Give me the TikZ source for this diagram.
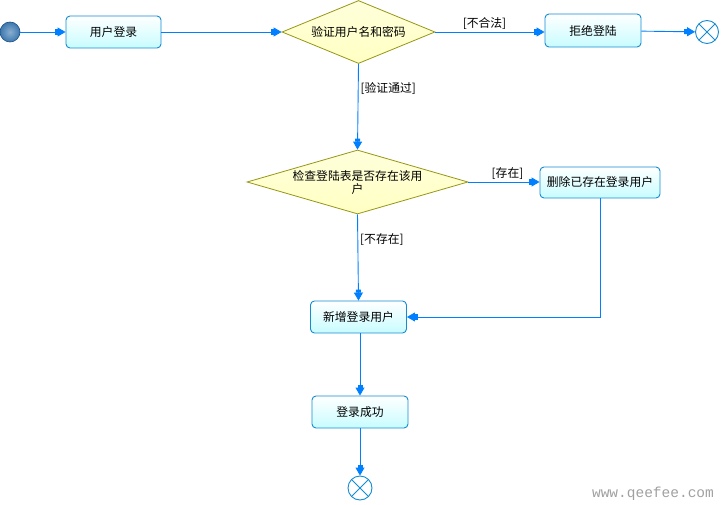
\documentclass[tikz,border=0pt]{standalone}
\usepackage{fontspec}
\newfontfamily\cjk{Noto Sans CJK SC}
\newfontfamily\wmfont{Liberation Mono}
\usetikzlibrary{shapes.geometric,arrows.meta}
\definecolor{flowblue}{RGB}{0,128,255}
\definecolor{boxline}{RGB}{20,140,210}
\definecolor{boxfill}{RGB}{200,252,255}
\definecolor{decfill}{RGB}{255,255,195}
\definecolor{decline}{RGB}{150,150,20}
\definecolor{startfill}{RGB}{60,120,175}
\definecolor{startline}{RGB}{30,80,130}
\definecolor{wmgray}{RGB}{160,160,160}
\tikzset{
  every node/.style={font=\cjk\fontsize{11.8}{13}\selectfont},
  act/.style={draw=boxline, line width=0.9pt, rounded corners=4pt,
    top color=white, bottom color=boxfill, minimum height=32pt, inner sep=2pt},
  dec/.style={diamond, draw=decline, line width=0.8pt, top color=decfill!60, bottom color=decfill,
    inner sep=0pt},
  startdot/.style={circle, draw=startline, line width=0.6pt, inner color=startfill!60, outer color=startfill,
    minimum size=20pt, inner sep=0pt},
  enddot/.style={circle, draw=boxline, line width=0.9pt, fill=white, minimum size=23pt, inner sep=0pt,
    path picture={\draw[boxline, line width=0.8pt]
      (path picture bounding box.north west) -- (path picture bounding box.south east)
      (path picture bounding box.north east) -- (path picture bounding box.south west);}},
  flow/.style={draw=flowblue, line width=0.9pt,
    -{Rectangle[length=3pt,width=5pt]Triangle[length=8pt,width=9pt]}},
  guard/.style={inner sep=2pt}
}
\begin{document}
\begin{tikzpicture}[x=1pt,y=-1pt]
\useasboundingbox (0,0) rectangle (721,505);
% nodes
\node[startdot] (start) at (10,32) {};
\node[act, minimum width=95pt] (login) at (113.5,32) {用户登录};
\node[dec, minimum width=153pt, minimum height=63pt] (d1) at (358.5,32) {};
\node (d1t) at (d1) {验证用户名和密码};
\node[act, minimum width=96pt, minimum height=33pt] (reject) at (593,30.5) {拒绝登陆};
\node[enddot] (end1) at (707,32) {};
\node[dec, minimum width=221pt, minimum height=64pt] (d2) at (357.5,182) {};
\node[align=center, font=\cjk\fontsize{11.8}{13}\selectfont] (d2t) at (357.5,182.5) {检查登陆表是否存在该用\\户};
\node[act, minimum width=120pt, minimum height=31pt] (del) at (600,182.5) {删除已存在登录用户};
\node[act, minimum width=96pt] (add) at (358.5,317) {新增登录用户};
\node[act, minimum width=96pt] (succ) at (360,412) {登录成功};
\node[enddot, minimum size=24pt] (end2) at (360,488) {};
\node[font=\wmfont\fontsize{14.5}{16}\selectfont, text=wmgray] (wm) at (653,494) {www.qeefee.com};
% connectors
\draw[flow] (start) -- (login);
\draw[flow] (login) -- (d1);
\draw[flow] (d1.east) -- node[guard, above, pos=0.45] (g1) {[不合法]} (d1.east -| reject.west);
\draw[flow] (reject) -- (end1);
\draw[flow] (d1.south) -- node[guard, right, pos=0.29] (g2) {[验证通过]} (d2.north);
\draw[flow] (d2.east) -- node[guard, above, pos=0.55] (g3) {[存在]} (d2.east -| del.west);
\draw[flow] (d2.south) -- node[guard, right, pos=0.29] (g4) {[不存在]} (add.north);
\draw[flow] (del.south) |- (add.east);
\draw[flow] (add.south -| succ.north) -- (succ.north);
\draw[flow] (succ) -- (end2);
\end{tikzpicture}
\end{document}
